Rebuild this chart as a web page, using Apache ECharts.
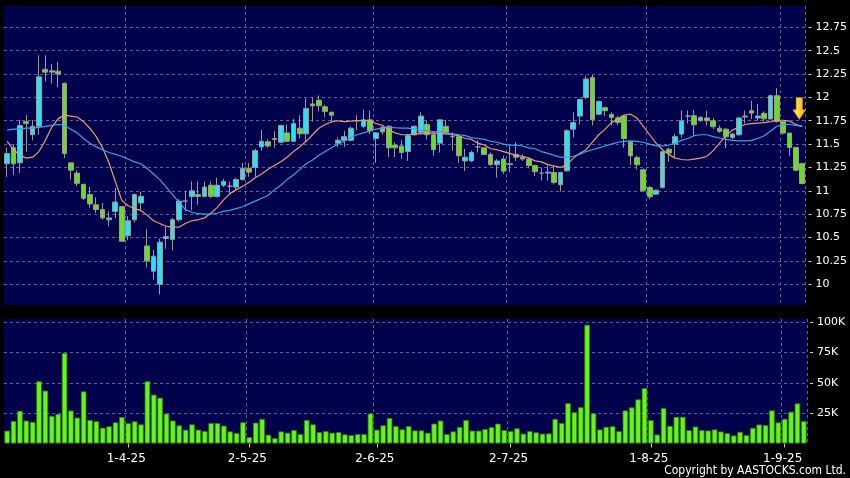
<!DOCTYPE html>
<html><head><meta charset="utf-8">
<script src="https://cdn.jsdelivr.net/npm/echarts@6/dist/echarts.min.js"></script>
<style>html,body{margin:0;padding:0;background:#000;}#c{width:850px;height:478px;}</style>
</head><body><div id="c"></div>
<script>
const dates = [
 '5-3-25','6-3-25','7-3-25','10-3-25','11-3-25','12-3-25','13-3-25','14-3-25','17-3-25','18-3-25','19-3-25','20-3-25','21-3-25','24-3-25','25-3-25','26-3-25','27-3-25','28-3-25','31-3-25',
 '1-4-25','2-4-25','3-4-25','7-4-25','8-4-25','9-4-25','10-4-25','11-4-25','14-4-25','15-4-25','16-4-25','17-4-25','22-4-25','23-4-25','24-4-25','25-4-25','28-4-25','29-4-25','30-4-25',
 '2-5-25','6-5-25','7-5-25','8-5-25','9-5-25','12-5-25','13-5-25','14-5-25','15-5-25','16-5-25','19-5-25','20-5-25','21-5-25','22-5-25','23-5-25','26-5-25','27-5-25','28-5-25','29-5-25','30-5-25',
 '2-6-25','3-6-25','4-6-25','5-6-25','6-6-25','9-6-25','10-6-25','11-6-25','12-6-25','13-6-25','16-6-25','17-6-25','18-6-25','19-6-25','20-6-25','23-6-25','24-6-25','25-6-25','26-6-25','27-6-25','30-6-25',
 '2-7-25','3-7-25','4-7-25','7-7-25','8-7-25','9-7-25','10-7-25','11-7-25','14-7-25','15-7-25','16-7-25','17-7-25','18-7-25','21-7-25','22-7-25','23-7-25','24-7-25','25-7-25','28-7-25','29-7-25','30-7-25','31-7-25',
 '1-8-25','4-8-25','5-8-25','6-8-25','7-8-25','8-8-25','11-8-25','12-8-25','13-8-25','14-8-25','15-8-25','18-8-25','19-8-25','20-8-25','21-8-25','22-8-25','25-8-25','26-8-25','27-8-25','28-8-25','29-8-25',
 '1-9-25','2-9-25','3-9-25','4-9-25'
];
const opens = [
 11.29,11.46,11.30,11.74,11.60,11.69,12.30,12.285,12.28,12.15,
 11.30,11.19,11.07,10.96,10.85,10.80,10.69,10.78,10.83,10.52,
 10.69,10.87,10.41,10.14,10.00,10.49,10.48,10.69,10.89,10.94,
 10.96,10.94,11.06,10.94,11.06,11.05,11.04,11.12,11.24,11.25,
 11.47,11.525,11.55,11.52,11.62,11.53,11.67,11.61,11.93,11.97,
 11.90,11.84,11.51,11.54,11.54,11.75,11.69,11.76,11.56,11.68,
 11.69,11.49,11.48,11.42,11.60,11.625,11.71,11.60,11.51,11.69,
 11.58,11.58,11.32,11.32,11.47,11.46,11.39,11.28,11.34,11.28,
 11.39,11.36,11.34,11.27,11.19,11.19,11.196,11.064,11.214,11.66,
 11.80,12.00,12.214,11.82,11.89,11.818,11.78,11.80,11.525,11.357,
 11.225,11.036,10.964,11.036,11.446,11.50,11.607,11.80,11.804,11.75,
 11.78,11.75,11.67,11.66,11.571,11.60,11.79,11.857,11.78,11.83,
 11.768,12.018,11.743,11.618,11.464,11.293
];
const closes = [
 11.40,11.29,11.70,11.72,11.69,12.22,12.27,12.27,12.25,11.40,
 11.22,11.08,10.92,10.86,10.80,10.71,10.71,10.88,10.46,10.68,
 10.96,10.94,10.25,10.30,10.45,10.51,10.69,10.89,10.89,11.00,
 10.94,11.04,10.94,11.06,11.10,11.05,11.12,11.24,11.20,11.43,
 11.53,11.48,11.56,11.70,11.53,11.72,11.61,11.88,11.91,11.91,
 11.85,11.81,11.54,11.58,11.67,11.75,11.76,11.64,11.62,11.63,
 11.46,11.46,11.41,11.59,11.69,11.80,11.60,11.44,11.76,11.625,
 11.58,11.375,11.36,11.41,11.47,11.39,11.28,11.32,11.21,11.29,
 11.36,11.34,11.27,11.205,11.19,11.20,11.09,11.196,11.643,11.73,
 11.98,12.196,11.76,11.957,11.857,11.786,11.73,11.56,11.375,11.279,
 11.00,10.936,11.007,11.418,11.404,11.58,11.75,11.80,11.707,11.786,
 11.75,11.686,11.636,11.578,11.607,11.78,11.80,11.832,11.80,11.77,
 12.018,11.743,11.618,11.464,11.221,11.079
];
const lows = [
 11.15,11.17,11.19,11.42,11.54,11.60,12.17,12.15,12.11,11.35,
 11.12,11.05,10.90,10.82,10.76,10.69,10.62,10.71,10.46,10.47,
 10.66,10.78,10.18,10.05,9.89,10.38,10.36,10.67,10.78,10.79,
 10.85,10.93,10.92,10.93,11.04,10.97,11.01,11.11,11.15,11.15,
 11.43,11.46,11.46,11.51,11.52,11.52,11.56,11.52,11.74,11.85,
 11.79,11.73,11.47,11.47,11.53,11.65,11.67,11.61,11.30,11.60,
 11.36,11.36,11.34,11.32,11.59,11.61,11.55,11.375,11.41,11.60,
 11.43,11.30,11.21,11.31,11.41,11.385,11.27,11.14,11.18,11.20,
 11.32,11.32,11.24,11.16,11.11,11.11,11.07,10.99,11.205,11.57,
 11.71,11.98,11.70,11.81,11.80,11.70,11.70,11.46,11.275,11.23,
 10.99,10.91,10.955,11.025,11.31,11.36,11.57,11.72,11.59,11.745,
 11.70,11.66,11.62,11.457,11.55,11.59,11.72,11.768,11.75,11.74,
 11.768,11.73,11.60,11.375,11.21,11.07
];
const highs = [
 11.46,11.50,11.76,11.81,11.76,12.45,12.45,12.36,12.38,12.16,
 11.30,11.22,11.07,11.04,10.93,10.87,10.78,11.03,10.83,10.73,
 10.97,10.99,10.59,10.37,10.49,10.62,10.71,10.91,11.00,11.10,
 11.10,11.10,11.10,11.14,11.13,11.10,11.14,11.30,11.30,11.45,
 11.65,11.55,11.64,11.70,11.71,11.77,11.81,11.99,12.00,12.02,
 11.92,11.85,11.57,11.64,11.69,11.81,11.87,11.86,11.63,11.69,
 11.70,11.52,11.54,11.61,11.70,11.84,11.75,11.625,11.76,11.76,
 11.625,11.59,11.45,11.43,11.54,11.465,11.41,11.34,11.375,11.48,
 11.52,11.39,11.36,11.28,11.25,11.27,11.27,11.20,11.66,11.84,
 11.98,12.23,12.24,11.965,11.90,11.84,11.80,11.81,11.525,11.375,
 11.24,11.05,11.01,11.43,11.46,11.61,11.864,11.86,11.864,11.80,
 11.857,11.78,11.70,11.67,11.62,11.79,11.86,11.964,11.93,11.85,
 12.03,12.10,11.75,11.618,11.464,11.30
];
const ma10 = [
 11.53,11.44,11.38,11.35,11.36,11.42,11.54,11.68,11.77,11.81,
 11.80,11.79,11.74,11.67,11.58,11.46,11.30,11.10,10.90,10.84,
 10.81,10.79,10.74,10.68,10.65,10.62,10.615,10.61,10.65,10.68,
 10.69,10.71,10.76,10.82,10.90,10.97,11.01,11.05,11.09,11.14,
 11.18,11.23,11.27,11.31,11.36,11.42,11.47,11.53,11.60,11.67,
 11.71,11.74,11.75,11.74,11.745,11.75,11.755,11.745,11.72,11.70,
 11.65,11.62,11.60,11.60,11.61,11.61,11.615,11.62,11.615,11.61,
 11.60,11.59,11.56,11.55,11.51,11.49,11.45,11.44,11.42,11.40,
 11.38,11.37,11.35,11.32,11.31,11.28,11.265,11.25,11.28,11.35,
 11.40,11.44,11.52,11.60,11.66,11.73,11.77,11.81,11.82,11.78,
 11.69,11.60,11.51,11.44,11.39,11.35,11.335,11.33,11.34,11.35,
 11.37,11.43,11.51,11.59,11.65,11.68,11.71,11.72,11.725,11.73,
 11.74,11.755,11.755,11.745,11.71,11.69
];
const ma20 = [
 11.65,11.66,11.66,11.67,11.67,11.68,11.69,11.70,11.71,11.70,
 11.66,11.62,11.56,11.51,11.47,11.44,11.41,11.39,11.37,11.34,
 11.31,11.29,11.24,11.18,11.12,11.04,10.96,10.88,10.80,10.77,
 10.755,10.75,10.75,10.76,10.78,10.79,10.81,10.83,10.86,10.89,
 10.92,10.95,11.01,11.06,11.12,11.17,11.23,11.29,11.33,11.38,
 11.42,11.46,11.50,11.53,11.57,11.60,11.62,11.64,11.66,11.67,
 11.68,11.675,11.67,11.67,11.66,11.65,11.645,11.635,11.63,11.62,
 11.61,11.60,11.59,11.57,11.56,11.55,11.53,11.52,11.50,11.49,
 11.49,11.48,11.46,11.45,11.42,11.40,11.38,11.36,11.36,11.37,
 11.39,11.42,11.44,11.46,11.48,11.50,11.52,11.53,11.535,11.53,
 11.52,11.50,11.48,11.48,11.49,11.51,11.54,11.56,11.59,11.60,
 11.60,11.58,11.565,11.55,11.54,11.535,11.535,11.54,11.56,11.59,
 11.64,11.69,11.71,11.71,11.70,11.69
];
const volumes = [
 10600,18600,27000,18900,17800,51400,43600,22800,24400,74700,
 27200,21400,43000,19400,18300,13000,14200,17500,21900,16700,
 18300,15800,51400,40300,37800,24700,18900,15000,11400,15800,
 11400,10300,16900,16900,14700,10000,8600,17500,5300,17200,
 20300,7200,4400,10000,8900,11100,7800,19400,15800,9400,
 10300,8900,9400,7500,6900,7800,7800,24700,11400,15000,
 21100,14400,11700,14400,10800,10800,8900,16400,18900,7800,
 10000,13600,19400,10600,10600,11900,13600,16400,11100,10300,
 12500,8100,10300,9200,8100,8300,20300,16900,33300,25800,
 30000,98000,24800,11600,13800,14300,10200,27300,29800,36400,
 45700,19300,7400,29200,14600,22000,22000,11000,14000,11000,
 10700,11600,9900,8500,6600,9600,6900,12900,15700,15200,
 27300,17400,20400,26200,33100,18500
];
const priceTicks = [10, 10.25, 10.5, 10.75, 11, 11.25, 11.5, 11.75, 12, 12.25, 12.5, 12.75];
const volumeTicks = [25000, 50000, 75000, 100000];
const arrowValue = 11.88;

const candles = dates.map((d, i) => [opens[i], closes[i], lows[i], highs[i]]);
const month = (s) => s.split('-')[1];
const monthStart = (i) => i > 0 && month(dates[i]) !== month(dates[i - 1]);

const gridLine = { show: true, lineStyle: { color: '#60609a', width: 1, type: [3, 3] } };
const font = 'DejaVu Sans';

const chart = echarts.init(document.getElementById('c'), null, { renderer: 'canvas' });
chart.setOption({
  animation: false,
  backgroundColor: '#000000',
  grid: [
    { left: 4, right: 43, top: 6, height: 299, show: true, backgroundColor: '#00004b', borderWidth: 0 },
    { left: 4, right: 43, top: 319, height: 124.5, show: true, backgroundColor: '#00004b', borderWidth: 0 }
  ],
  xAxis: [
    { type: 'category', gridIndex: 0, data: dates, boundaryGap: true,
      axisLine: { show: false }, axisTick: { show: false }, axisLabel: { show: false },
      splitLine: Object.assign({ interval: (i) => monthStart(i) }, gridLine) },
    { type: 'category', gridIndex: 1, data: dates, boundaryGap: true,
      axisLine: { show: false },
      axisTick: { show: true, interval: (i) => monthStart(i), alignWithLabel: true, length: 4, lineStyle: { color: '#cfcfcf' } },
      axisLabel: { interval: (i) => monthStart(i), color: '#ffffff', fontSize: 12, fontFamily: font, margin: 9, padding: [0, 4, 0, 0] },
      splitLine: Object.assign({ interval: (i) => monthStart(i) }, gridLine) }
  ],
  yAxis: [
    { type: 'value', gridIndex: 0, position: 'right', offset: 3, min: 9.778, max: 12.978, scale: true,
      axisLine: { show: false },
      axisTick: { show: true, length: 3, customValues: priceTicks, lineStyle: { color: '#d0d0d0' } },
      axisLabel: { customValues: priceTicks, color: '#ffffff', fontSize: 11, fontFamily: font, margin: 7 },
      splitLine: gridLine },
    { type: 'value', gridIndex: 1, position: 'right', offset: 3, min: 0, max: 102700,
      axisLine: { show: false },
      axisTick: { show: true, length: 3, customValues: volumeTicks, lineStyle: { color: '#d0d0d0' } },
      axisLabel: { customValues: volumeTicks, color: '#ffffff', fontSize: 11, fontFamily: font, margin: 7,
        formatter: (v) => (v / 1000) + 'K' },
      splitLine: gridLine }
  ],
  series: [
    { name: 'Price', type: 'candlestick', xAxisIndex: 0, yAxisIndex: 0, data: candles, barWidth: 5.2, z: 2,
      itemStyle: { color: '#27e3ef', color0: '#66e01c', borderColor: '#9a9a9a', borderColor0: '#9a9a9a', borderColorDoji: '#9a9a9a', borderWidth: 1 },
      markPoint: {
        silent: true,
        label: { show: false },
        data: [{
          coord: [dates[dates.length - 1], arrowValue],
          symbol: 'path://M3,0 L9,0 L9,11 L12,11 L6,20 L0,11 L3,11 Z',
          symbolSize: [13, 22],
          symbolOffset: [-3, 0],
          itemStyle: {
            color: new echarts.graphic.LinearGradient(0, 0, 1, 0, [
              { offset: 0, color: '#fff07a' }, { offset: 1, color: '#f2b000' }
            ]),
            borderColor: '#b07a00', borderWidth: 0.6
          }
        }]
      } },
    { name: 'MA10', type: 'line', xAxisIndex: 0, yAxisIndex: 0, data: ma10, showSymbol: false, z: 3,
      lineStyle: { color: '#e99c72', width: 1.2 } },
    { name: 'MA20', type: 'line', xAxisIndex: 0, yAxisIndex: 0, data: ma20, showSymbol: false, z: 3,
      lineStyle: { color: '#3aa2ea', width: 1.2 } },
    { name: 'Volume', type: 'bar', xAxisIndex: 1, yAxisIndex: 1, data: volumes, barWidth: 5.6,
      itemStyle: { color: '#66f51a', borderColor: '#2e7a0e', borderWidth: 0.8 } }
  ],
  graphic: [
    { type: 'text', right: 4, bottom: 1,
      style: { text: 'Copyright by AASTOCKS.com Ltd.', fill: '#ffffff', font: '12px "DejaVu Sans Condensed", "DejaVu Sans"' } }
  ]
});
</script>
</body></html>
